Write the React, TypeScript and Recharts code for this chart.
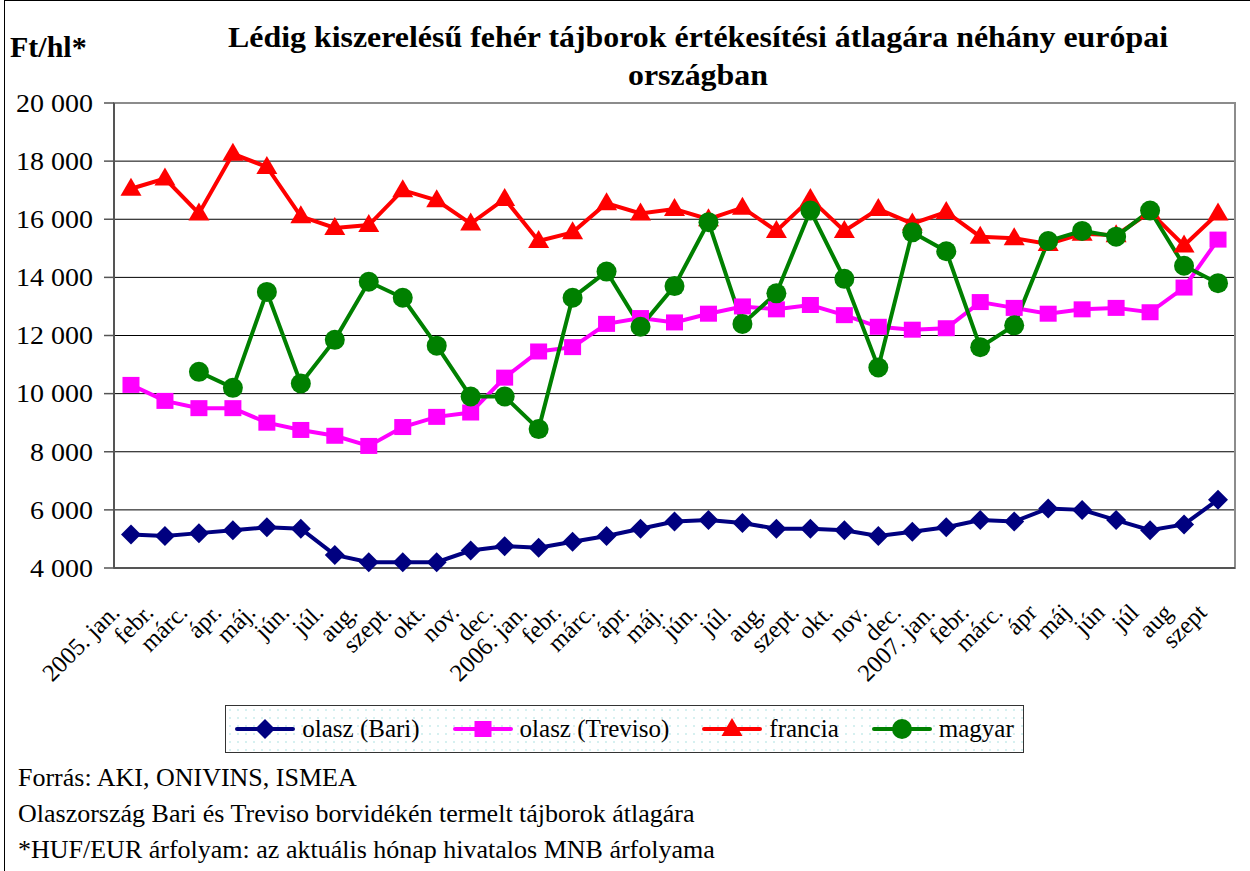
import {
  LineChart,
  Line,
  XAxis,
  YAxis,
  CartesianGrid,
  ReferenceArea,
} from "recharts";

const months = [
  "2005. jan.", "febr.", "márc.", "ápr.", "máj.", "jún.", "júl.", "aug.", "szept.", "okt.", "nov.", "dec.",
  "2006. jan.", "febr.", "márc.", "ápr.", "máj.", "jún.", "júl.", "aug.", "szept.", "okt.", "nov.", "dec.",
  "2007. jan.", "febr.", "márc.", "ápr", "máj", "jún", "júl", "aug", "szept",
];

const bari = [
  5150, 5100, 5200, 5300, 5400, 5350, 4450, 4200, 4200, 4200, 4600, 4750,
  4700, 4900, 5100, 5350, 5600, 5650, 5550, 5350, 5350, 5300, 5100, 5250,
  5400, 5650, 5600, 6050, 6000, 5650, 5300, 5500, 6350,
];

const treviso = [
  10300, 9750, 9500, 9500, 9000, 8750, 8550, 8200, 8850, 9200, 9350, 10550,
  11450, 11600, 12400, 12600, 12450, 12750, 13000, 12900, 13050, 12700, 12300, 12200,
  12250, 13150, 12950, 12750, 12900, 12950, 12800, 13650, 15300,
];

const francia = [
  17050, 17400, 16200, 18250, 17800, 16100, 15700, 15800, 17000, 16650, 15850, 16700,
  15250, 15550, 16550, 16200, 16350, 16000, 16400, 15600, 16700, 15600, 16350, 15850,
  16250, 15400, 15350, 15150, 15500, 15450, 16250, 15100, 16200,
];

const magyar = [
  null, null, 10750, 10200, 13500, 10350, 11850, 13850, 13300, 11650, 9900, 9900,
  8780, 13300, 14200, 12300, 13700, 15900, 12400, 13450, 16300, 13950, 10900, 15550,
  14900, 11600, 12350, 15250, 15600, 15400, 16300, 14400, 13800,
];

const yTicks = [4000, 6000, 8000, 10000, 12000, 14000, 16000, 18000, 20000];

const data = months.map((m, i) => ({
  x: i + 0.5,
  month: m,
  bari: bari[i],
  treviso: treviso[i],
  francia: francia[i],
  magyar: magyar[i],
}));

const centers = months.map((_, i) => i + 0.5);
const bounds = [...months.map((_, i) => i), months.length];

const FONT = '"Liberation Serif", "Times New Roman", serif';
const NAVY = "#000080";
const MAGENTA = "#ff00ff";
const RED = "#ff0000";
const GREEN = "#008000";
// the original text is a bit wider than Times at the same height
const STRETCH = 1.12;

const fmt = (v: number) => String(v).replace(/\B(?=(\d{3})+(?!\d))/g, " ");

function marker(kind: string, cx: number, cy: number, color: string, key?: any) {
  if (kind === "diamond")
    return <path key={key} d={`M${cx},${cy - 10}L${cx + 10},${cy}L${cx},${cy + 10}L${cx - 10},${cy}Z`} fill={color} />;
  if (kind === "square")
    return <rect key={key} x={cx - 8.5} y={cy - 8} width={17} height={16} fill={color} />;
  if (kind === "triangle")
    return <path key={key} d={`M${cx},${cy - 11}L${cx + 10.5},${cy + 7}L${cx - 10.5},${cy + 7}Z`} fill={color} />;
  return <circle key={key} cx={cx} cy={cy} r={10} fill={color} />;
}

const dot = (kind: string, color: string) => (p: any) => {
  if (p.cx == null || p.cy == null || p.value == null) return <g key={p.index} />;
  return marker(kind, p.cx, p.cy, color, p.index);
};

function MonthTick({ x, y, payload }: any) {
  const label = months[Math.floor(payload.value)];
  const ax = x - 10;
  const ay = y + 36;
  return (
    <text
      x={ax}
      y={ay}
      transform={`rotate(-45, ${ax}, ${ay})`}
      textAnchor="end"
      fontSize={24.5}
      fontFamily={FONT}
      fill="#000"
    >
      {label}
    </text>
  );
}

function ValueTick({ x, y, payload }: any) {
  return (
    <text
      x={x}
      y={y}
      dy="0.355em"
      textAnchor="end"
      transform={`translate(${x} 0) scale(${STRETCH} 1) translate(${-x} 0)`}
      fontSize={25}
      fontFamily={FONT}
      fill="#000"
    >
      {fmt(payload.value)}
    </text>
  );
}

const legendItems = [
  { name: "olasz (Bari)", kind: "diamond", color: NAVY },
  { name: "olasz (Treviso)", kind: "square", color: MAGENTA },
  { name: "francia", kind: "triangle", color: RED },
  { name: "magyar", kind: "circle", color: GREEN },
];

export default function App() {
  return (
    <div
      style={{
        position: "absolute",
        left: 0,
        top: 0,
        width: 1250,
        height: 871,
        background: "#fff",
        fontFamily: FONT,
        overflow: "hidden",
      }}
    >
      <div
        style={{
          position: "absolute",
          left: 4,
          top: 0,
          width: 1260,
          height: 880,
          borderLeft: "1px solid #000",
          borderTop: "1px solid #000",
        }}
      />
      <div style={{ position: "absolute", left: 10, top: 28, fontSize: 30, fontWeight: "bold", lineHeight: "38px" }}>
        Ft/hl*
      </div>
      <div
        style={{
          position: "absolute",
          left: 148,
          width: 1100,
          top: 18,
          textAlign: "center",
          fontSize: 29,
          fontWeight: "bold",
          lineHeight: "38px",
          transform: "scaleX(1.1)",
          transformOrigin: "550px 0",
        }}
      >
        Lédig kiszerelésű fehér tájborok értékesítési átlagára néhány európai
        <br />
        országban
      </div>

      <LineChart
        width={1250}
        height={871}
        data={data}
        margin={{ top: 103, right: 15, left: 14, bottom: 233 }}
        style={{ position: "absolute", left: 0, top: 0 }}
      >
        <CartesianGrid xAxisId="grid" vertical={false} stroke="#000" strokeWidth={1} />
        <XAxis
          xAxisId="grid"
          type="number"
          dataKey="x"
          domain={[0, months.length]}
          ticks={bounds}
          interval={0}
          tick={false}
          tickSize={8}
          tickLine={{ stroke: "#555", strokeWidth: 1.5 }}
          axisLine={{ stroke: "#555", strokeWidth: 2 }}
          height={10}
        />
        <XAxis
          xAxisId="lab"
          type="number"
          dataKey="x"
          domain={[0, months.length]}
          ticks={centers}
          interval={0}
          tick={<MonthTick />}
          tickLine={false}
          axisLine={false}
          tickSize={0}
          tickMargin={0}
          height={60}
        />
        <YAxis
          type="number"
          domain={[4000, 20000]}
          ticks={yTicks}
          interval={0}
          width={100}
          tickSize={10}
          tickMargin={11}
          tick={<ValueTick />}
          tickLine={{ stroke: "#555", strokeWidth: 1.5 }}
          axisLine={{ stroke: "#555", strokeWidth: 2 }}
        />
        <ReferenceArea
          xAxisId="grid"
          x1={0}
          x2={months.length}
          y1={4000}
          y2={20000}
          fill="none"
          stroke="#8c8c8c"
          strokeWidth={2}
          fillOpacity={0}
        />
        <Line
          xAxisId="lab"
          dataKey="bari"
          stroke={NAVY}
          strokeWidth={4}
          dot={dot("diamond", NAVY)}
          activeDot={false}
          isAnimationActive={false}
        />
        <Line
          xAxisId="lab"
          dataKey="treviso"
          stroke={MAGENTA}
          strokeWidth={4}
          dot={dot("square", MAGENTA)}
          activeDot={false}
          isAnimationActive={false}
        />
        <Line
          xAxisId="lab"
          dataKey="francia"
          stroke={RED}
          strokeWidth={4}
          dot={dot("triangle", RED)}
          activeDot={false}
          isAnimationActive={false}
        />
        <Line
          xAxisId="lab"
          dataKey="magyar"
          stroke={GREEN}
          strokeWidth={4}
          dot={dot("circle", GREEN)}
          activeDot={false}
          isAnimationActive={false}
        />
      </LineChart>

      <div
        style={{
          position: "absolute",
          left: 225,
          top: 705,
          width: 797,
          height: 46,
          border: "1.5px solid #333",
          backgroundColor: "#fff",
          backgroundImage: "radial-gradient(#d6f0f0 1px, transparent 1.2px)",
          backgroundSize: "8px 8px",
          display: "flex",
          alignItems: "center",
          justifyContent: "center",
          gap: 33,
          fontSize: 25,
        }}
      >
        {legendItems.map((it) => (
          <div key={it.name} style={{ display: "flex", alignItems: "center", gap: 7 }}>
            <svg width={60} height={24}>
              <line x1={2} y1={12} x2={58} y2={12} stroke={it.color} strokeWidth={4} strokeLinecap="round" />
              {marker(it.kind, 30, 12, it.color)}
            </svg>
            <span>{it.name}</span>
          </div>
        ))}
      </div>

      <div style={{ position: "absolute", left: 18, top: 760, fontSize: 26, lineHeight: "36px" }}>
        <div>Forrás: AKI, ONIVINS, ISMEA</div>
        <div>Olaszország Bari és Treviso borvidékén termelt tájborok átlagára</div>
        <div>*HUF/EUR árfolyam: az aktuális hónap hivatalos MNB árfolyama</div>
      </div>
    </div>
  );
}
